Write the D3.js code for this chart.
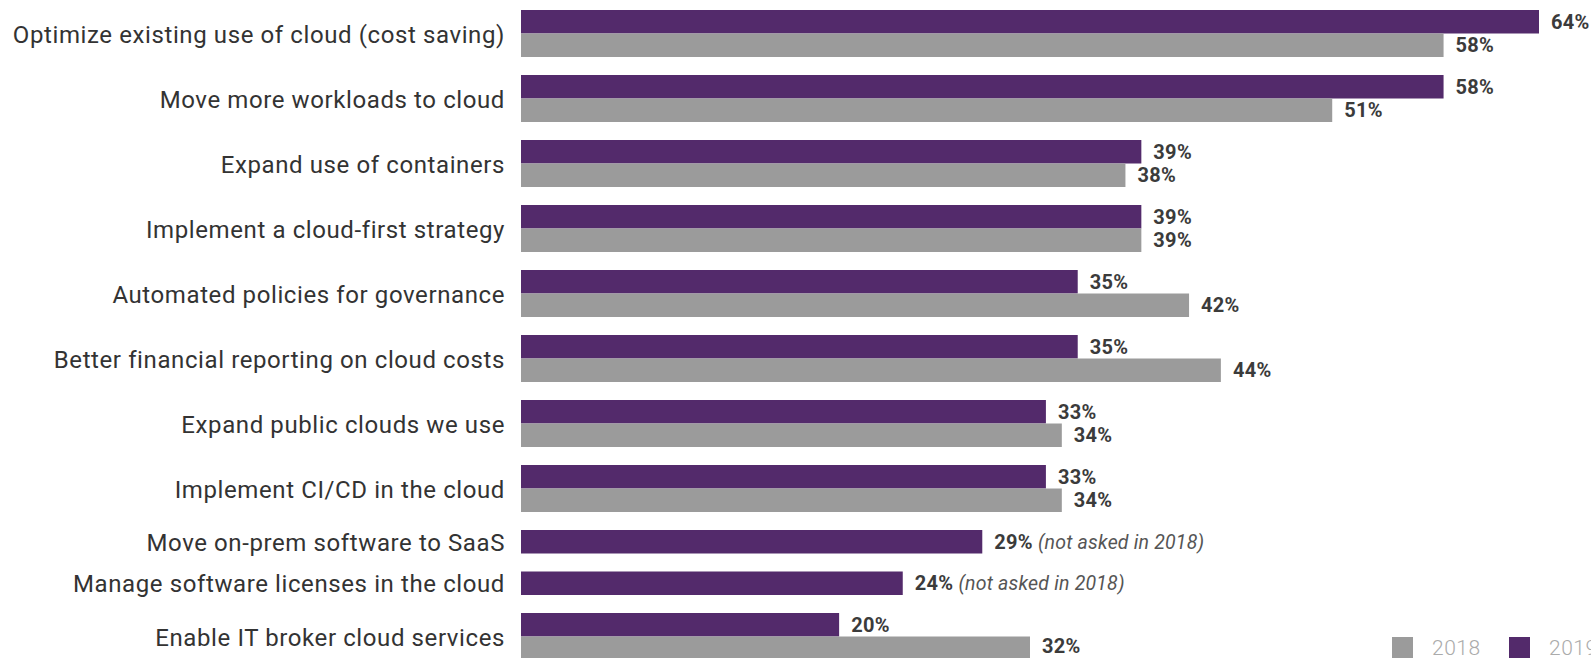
<!DOCTYPE html>
<html>
<head>
<meta charset="utf-8">
<script src="https://cdn.jsdelivr.net/npm/d3@7"></script>
<style>
  html,body{margin:0;padding:0;background:#fff;}
  svg{display:block;font-family:Roboto,"Noto Sans",sans-serif;}
</style>
</head>
<body>
<div id="chart"></div>
<script>
const categories = [
  'Optimize existing use of cloud (cost saving)',
  'Move more workloads to cloud',
  'Expand use of containers',
  'Implement a cloud-first strategy',
  'Automated policies for governance',
  'Better financial reporting on cloud costs',
  'Expand public clouds we use',
  'Implement CI/CD in the cloud',
  'Move on-prem software to SaaS',
  'Manage software licenses in the cloud',
  'Enable IT broker cloud services'
];
const values2019 = [64, 58, 39, 39, 35, 35, 33, 33, 29, 24, 20];
const values2018 = [58, 51, 38, 39, 42, 44, 34, 34, null, null, 32];
const seriesNames = ['2018', '2019'];
const notAskedNote = '(not asked in 2018)';

const W = 1591, H = 658;
const PURPLE = '#532a6b', GRAY = '#9b9b9b';

const svg = d3.select('#chart').append('svg').attr('width', W).attr('height', H);

const x = d3.scaleLinear().domain([0, d3.max(values2019)]).range([521, 1539]);

// each group takes one unit per bar plus a fixed gap, so groups without a 2018 bar are shorter
const barH = 23.5, gapU = 18 / barH;
let pos = 0;
const groups = categories.map((c, i) => {
  const bars = [{s: '2019', v: values2019[i]}];
  if (values2018[i] != null) bars.push({s: '2018', v: values2018[i]});
  const g = {c, i, start: pos, bars};
  pos += bars.length + gapU;
  return g;
});
const y = d3.scaleLinear().domain([0, 1]).range([10, 10 + barH]);

const g = svg.append('g');

groups.forEach(grp => {
  grp.bars.forEach((b, k) => {
    const y0 = y(grp.start + k), y1 = y(grp.start + k + 1);
    g.append('rect')
      .attr('x', x(0)).attr('y', y0)
      .attr('width', x(b.v) - x(0)).attr('height', y1 - y0)
      .attr('fill', b.s === '2019' ? PURPLE : GRAY);

    const t = g.append('text')
      .attr('x', x(b.v) + 12).attr('y', Math.min((y0 + y1) / 2, H - 12))
      .attr('dominant-baseline', 'central')
      .attr('fill', '#3b3b3b')
      .attr('font-size', 20).attr('font-weight', 700)
      .attr('letter-spacing', 0.3)
      .text(`${b.v}%`);
    if (grp.bars.length === 1)
      t.append('tspan').attr('font-weight', 400).attr('font-style', 'italic')
        .attr('fill', '#555').attr('font-size', 19.5).attr('letter-spacing', 0.2)
        .text(' ' + notAskedNote);
  });

  g.append('text')
    .attr('x', 505)
    .attr('y', (y(grp.start) + y(grp.start + grp.bars.length)) / 2 + 1)
    .attr('text-anchor', 'end').attr('dominant-baseline', 'central')
    .attr('fill', '#333')
    .attr('font-size', 24)
    .attr('letter-spacing', 0.6)
    .text(grp.c);
});

// legend, bottom right (cut off by the frame, as in the source)
const legend = svg.append('g').selectAll('g').data(seriesNames).join('g')
  .attr('transform', (d, i) => `translate(${1392 + i * 117},637)`);
legend.append('rect').attr('width', 21).attr('height', 21)
  .attr('fill', d => d === '2019' ? PURPLE : GRAY);
legend.append('text').attr('x', 40).attr('y', 18)
  .attr('fill', '#ababab').attr('font-size', 21).attr('font-weight', 300)
  .attr('letter-spacing', 0.5)
  .text(d => d);
</script>
</body>
</html>
